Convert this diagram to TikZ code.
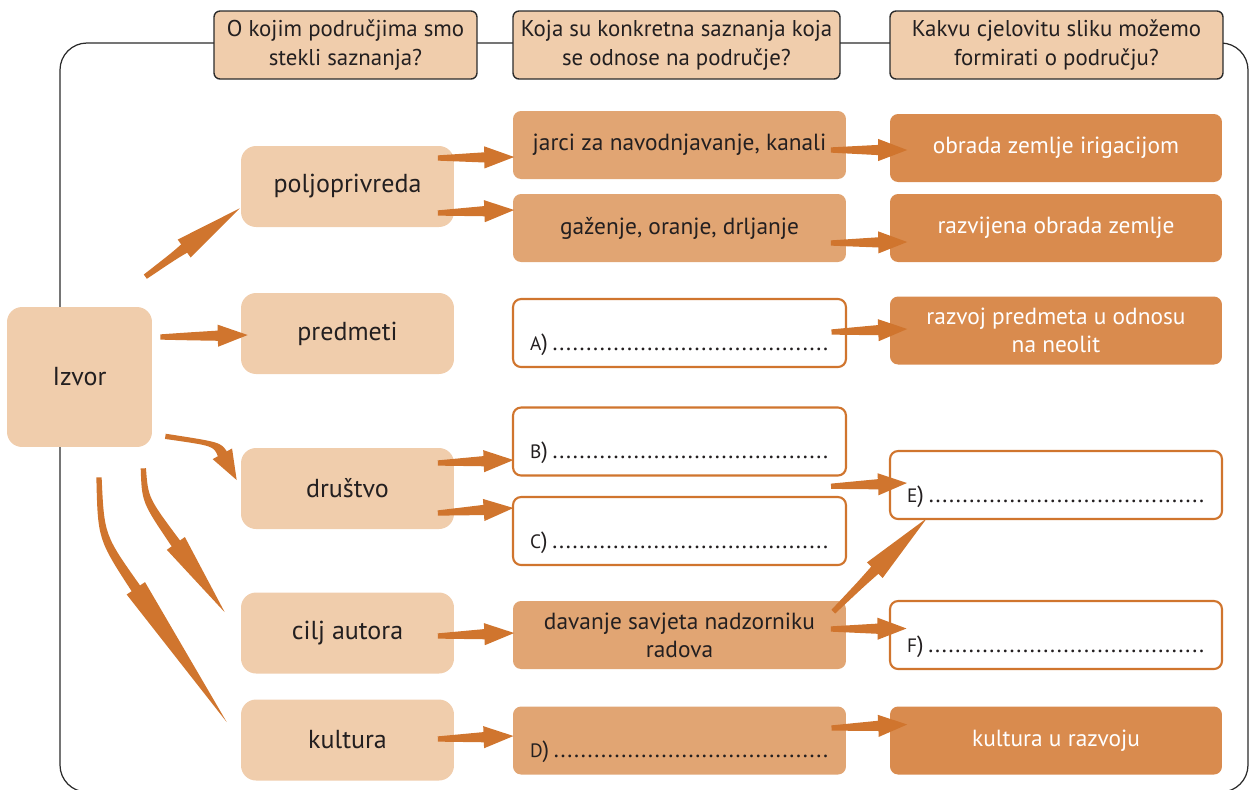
\documentclass[tikz,border=0pt]{standalone}
\usepackage{fontspec}
\setmainfont{PT Sans}
\usetikzlibrary{positioning,calc}

\definecolor{boxlight}{HTML}{F0CDAC}
\definecolor{boxmid}{HTML}{E1A573}
\definecolor{boxdark}{HTML}{D98B4E}
\definecolor{arrowor}{HTML}{D0752E}
\definecolor{inkgray}{HTML}{2B2B2B}
\definecolor{inkdark}{HTML}{231F20}

% tapered arrow: tail, control, tip, head length
\newcommand\fatcurve[4]{%
  \coordinate (fa-t) at (#1);
  \coordinate (fa-c) at (#2);
  \coordinate (fa-p) at (#3);
  \coordinate (fa-b) at ($(fa-p)!#4!(fa-c)$);
  \fill[arrowor] ($(fa-t)!1.5pt!90:(fa-c)$)
    .. controls ($(fa-c)!2.2pt!90:(fa-b)$) .. ($(fa-b)!2.9pt!-90:(fa-c)$)
    -- ($(fa-b)!6.3pt!-90:(fa-c)$) -- (fa-p) -- ($(fa-b)!6.3pt!90:(fa-c)$)
    -- ($(fa-b)!2.9pt!90:(fa-c)$)
    .. controls ($(fa-c)!2.2pt!-90:(fa-b)$) .. ($(fa-t)!1.5pt!-90:(fa-c)$)
    -- cycle;
}
% straight one: tail, tip, head length
\newcommand\fatarrow[3]{%
  \coordinate (fa-s) at (#1);
  \coordinate (fa-e) at (#2);
  \fatcurve{fa-s}{$(fa-s)!.3!(fa-e)$}{fa-e}{#3}%
}
\newcommand\blank[1]{{\fontsize{11}{13}\selectfont #1})\,\xleaders\hbox to 3.8pt{\hss.\hss}\hskip 0pt plus 1fill\kern0pt}

\begin{document}
\begin{tikzpicture}[x=0.02cm, y=0.02cm, on grid,
  font=\fontsize{13.3}{16}\selectfont, text=inkdark,
  head/.style={rectangle, draw=inkgray, line width=0.8pt, fill=boxlight,
    font=\fontsize{13}{16.5}\selectfont,
    rounded corners=0.12cm, minimum height=1.36cm, align=center, inner sep=0pt},
  source/.style={rectangle, fill=boxlight, rounded corners=0.3cm,
    font=\fontsize{14.8}{18}\selectfont,
    minimum width=2.9cm, minimum height=2.8cm},
  area/.style={rectangle, fill=boxlight, rounded corners=0.3cm,
    font=\fontsize{14.8}{18}\selectfont,
    minimum width=4.26cm, minimum height=1.62cm},
  fact/.style={rectangle, fill=boxmid, rounded corners=0.16cm,
    minimum width=6.66cm, minimum height=1.36cm, align=center, inner sep=0pt},
  gap/.style={rectangle, draw=arrowor, line width=1.2pt, fill=white,
    rounded corners=0.16cm, inner xsep=0.34cm, inner ysep=0pt,
    text width=5.98cm, text height=1.02cm, text depth=0.34cm, align=left},
  whole/.style={rectangle, fill=boxdark, rounded corners=0.16cm, text=white,
    minimum width=6.64cm, minimum height=1.36cm, align=center, inner sep=0pt}
]
\useasboundingbox (0,0) rectangle (1258,-789);

% frame
\draw[inkgray, line width=0.7pt, rounded corners=0.54cm] (60,-43) rectangle (1248,-792);

% questions
\node[head, minimum width=5.26cm] (q1) at (345.5,-45) {O kojim područjima smo\\stekli saznanja?};
\node[head, minimum width=6.54cm] (q2) at (676.5,-45) {Koja su konkretna saznanja koja\\se odnose na područje?};
\node[head, minimum width=6.66cm] (q3) at (1056.5,-45) {Kakvu cjelovitu sliku možemo\\formirati o području?};

% source and areas
\node[source] (izvor) at (79.5,-377) {Izvor};
\node[area] (polj) at (347.5,-186.5) {poljoprivreda};
\node[area] (predm) at (347.5,-333.5) {predmeti};
\node[area] (drus) at (347.5,-488.5) {društvo};
\node[area] (cilj) at (347.5,-633) {cilj autora};
\node[area] (kult) at (347.5,-740) {kultura};

% facts
\node[fact] (jarci) at (679.5,-145) {jarci za navodnjavanje, kanali};
\node[fact] (gaz) at (679.5,-228) {gaženje, oranje, drljanje};
\node[gap] (a) at (679.5,-333) {\blank{A}};
\node[gap] (b) at (679.5,-441.5) {\blank{B}};
\node[gap] (c) at (679.5,-531) {\blank{C}};
\node[fact] (dav) at (679.5,-635) {davanje savjeta nadzorniku\\radova};
\node[gap, draw=none, fill=boxmid] (d) at (679.5,-740.5) {\blank{D}};

% whole picture
\node[whole] (obrada) at (1056,-148) {obrada zemlje irigacijom};
\node[whole, right=376.5 of gaz] (razv) {razvijena obrada zemlje};
\node[whole] (razvoj) at (1056,-330.5) {razvoj predmeta u odnosu\\na neolit};
\node[gap, text width=5.96cm] (e) at (1056,-485) {\blank{E}};
\node[gap, text width=5.96cm, right=376.5 of dav] (f) {\blank{F}};
\node[whole, right=376.5 of d] (kur) {kultura u razvoju};

% arrows
\fatarrow{[shift={(-7,30)}]izvor.north east}{[shift={(-1,19)}]polj.south west}{39pt}
\fatarrow{[shift={(8,40)}]izvor.east}{[shift={(7,-1.5)}]predm.west}{17pt}
\fatcurve{[shift={(13,11)}]izvor.south east}{217,-444}{[shift={(-4,8.5)}]drus.west}{17pt}
\fatcurve{[shift={(-9,-21)}]izvor.south east}{145,-500}{[shift={(-16,-20)}]cilj.north west}{48pt}
\fatcurve{[shift={(19.5,-30)}]izvor.south}{101,-537}{[shift={(-14,18)}]kult.west}{92pt}

\foreach \s/\sy/\t/\ty in {polj/28.5/jarci/-12, polj/-26.5/gaz/18, drus/25.5/b/-18.5,
    drus/-24.5/c/23, cilj/-3/dav/2, kult/1/d/4.5}
  \fatarrow{[shift={(-16.5,\sy)}]\s.east}{[shift={(1.5,\ty)}]\t.west}{17pt};

\foreach \s/\sy/\t/\ty in {jarci/-5/obrada/-2, gaz/-15/razv/-14, a/1/razvoj/1.5,
    dav/6/f/6.5, d/12.5/kur/16}
  \fatarrow{[shift={(-15.5,\sy)}]\s.east}{[shift={(17.5,\ty)}]\t.west}{16.5pt};

\coordinate (bc) at ($(b.south east)!.5!(c.north east)$);
\fatarrow{[shift={(-16,0)}]bc}{[shift={(18,2)}]e.west}{16.5pt}
\fatarrow{[shift={(-13,-11)}]dav.north east}{[shift={(38,2)}]e.south west}{42pt}
\end{tikzpicture}
\end{document}
